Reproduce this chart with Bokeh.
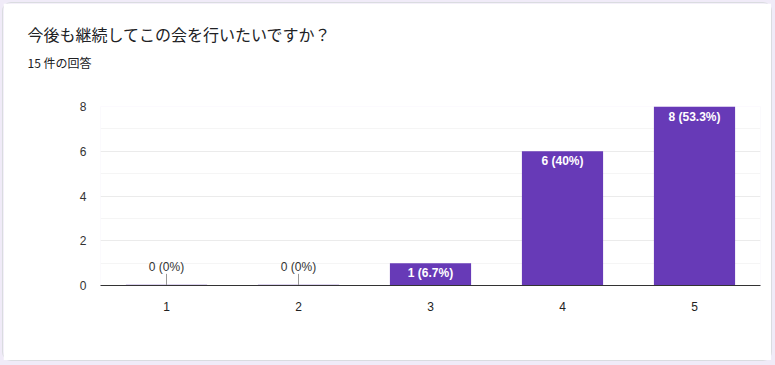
from bokeh.plotting import figure
from bokeh.models import ColumnDataSource, Title, Range1d, FactorRange, LabelSet, Column, FixedTicker
from bokeh.core.properties import value
from bokeh.embed import file_html
from bokeh.resources import INLINE

title_text = "今後も継続してこの会を行いたいですか？"
subtitle_text = "15 件の回答"
categories = ["1", "2", "3", "4", "5"]
counts = [0, 0, 1, 6, 8]
labels = ["0 (0%)", "0 (0%)", "1 (6.7%)", "6 (40%)", "8 (53.3%)"]
y_ticks = [0, 2, 4, 6, 8]

BAR = "#673ab7"
LATIN = "Liberation Sans"
CJK = "Noto Sans CJK JP"

nz = [i for i, c in enumerate(counts) if c > 0]
zz = [i for i, c in enumerate(counts) if c == 0]
src_bar = ColumnDataSource(dict(x=[categories[i] for i in nz], top=[counts[i] for i in nz],
                                lab=[labels[i] for i in nz]))
src_zero = ColumnDataSource(dict(x=[categories[i] for i in zz], top=[counts[i] for i in zz],
                                 lab=[labels[i] for i in zz]))

p = figure(width=768, height=357, output_backend="svg", toolbar_location=None,
           x_range=FactorRange(factors=categories, range_padding=0),
           y_range=Range1d(0, 8), title=None,
           min_border_left=97, min_border_right=11, min_border_bottom=75, min_border_top=10)

def spacer(s):
    return Title(text=" ", text_font_size="2px", standoff=s, text_color="white")

# titles stack outward from the frame: inner spacer, subtitle, title, outer spacer
p.add_layout(spacer(26), "above")
p.add_layout(Title(text=subtitle_text, text_font_size="12px", text_font=CJK,
                   text_font_style="normal", text_color="#202124", offset=-73, standoff=12), "above")
p.add_layout(Title(text=title_text, text_font_size="16px", text_font=CJK,
                   text_font_style="normal", text_color="#202124", offset=-73, standoff=0), "above")
p.add_layout(spacer(12), "above")

p.vbar(x="x", top="top", width=0.615, source=src_bar, fill_color=BAR, line_color=None)
# zero bars drawn as thin lavender strips with leader lines
p.vbar(x="x", bottom=0, top=0.06, width=0.615, source=src_zero, fill_color="#d1c4e9", line_color=None)
p.segment(x0="x", y0=0, x1="x", y1=0.52, source=src_zero, line_color="#999999", line_width=1)

p.add_layout(LabelSet(x="x", y="top", text="lab", source=src_bar, text_align="center",
                      text_baseline="top", y_offset=-3, text_color="white",
                      text_font_size=value("12px"), text_font_style="bold", text_font=value(LATIN)))
p.add_layout(LabelSet(x="x", y="top", text="lab", source=src_zero, text_align="center",
                      text_baseline="bottom", y_offset=12, text_color="#333333",
                      text_font_size=value("12px"), text_font=value(LATIN)))

p.xgrid.grid_line_color = None
p.ygrid.ticker = FixedTicker(ticks=y_ticks, minor_ticks=[1, 3, 5, 7])
p.ygrid.grid_line_color = "#ebebeb"
p.ygrid.minor_grid_line_color = "#f5f5f5"
p.outline_line_color = None

p.yaxis.ticker = FixedTicker(ticks=y_ticks)
p.yaxis.axis_line_color = None
p.yaxis.major_tick_line_color = None
p.yaxis.minor_tick_line_color = None
p.yaxis.major_label_text_font = LATIN
p.yaxis.major_label_text_font_size = "12px"
p.yaxis.major_label_text_color = "#333333"
p.yaxis.major_label_standoff = 8

p.xaxis.axis_line_color = "#333333"
p.xaxis.major_tick_line_color = None
p.xaxis.minor_tick_line_color = None
p.xaxis.major_label_text_font = LATIN
p.xaxis.major_label_text_font_size = "12px"
p.xaxis.major_label_text_color = "#222222"
p.xaxis.major_label_standoff = 10

p.background_fill_color = "white"
p.border_fill_color = "white"
p.styles = {"border-radius": "8px", "box-shadow": "0 0 0 1px #dadce0"}
p.margin = (3, 4, 5, 3)

layout = Column(children=[p], width=775, height=365, styles={"background-color": "#f0ebf8"})

open("out.html", "w").write(file_html(layout, INLINE))
